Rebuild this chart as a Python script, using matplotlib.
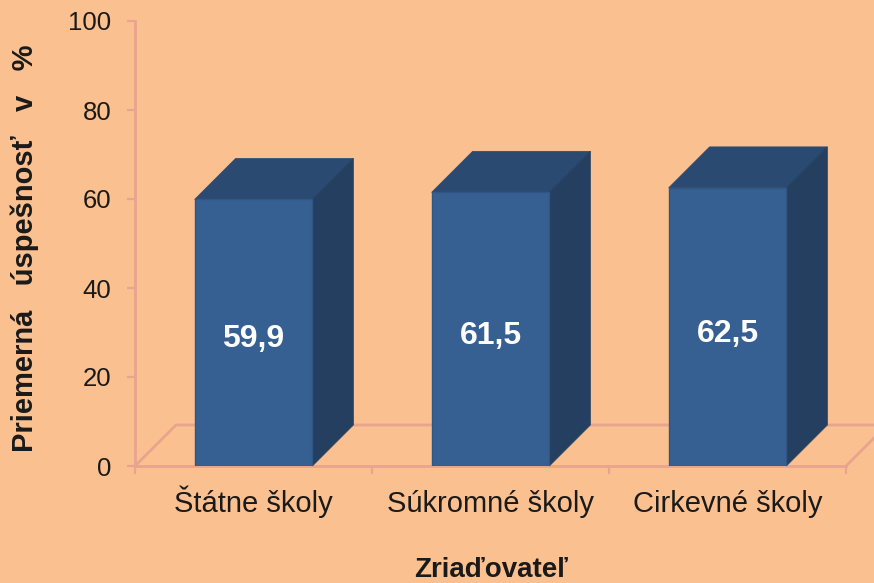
#!/usr/bin/python
#coding=utf-8

import matplotlib
matplotlib.use('Agg')
import matplotlib.pyplot as plt

categories = ['Štátne školy', 'Súkromné školy', 'Cirkevné školy']
values = [59.9, 61.5, 62.5]
value_labels = ['59,9', '61,5', '62,5']
yticks = [0, 20, 40, 60, 80, 100]

BG = '#FBC08F'
AXIS = '#E9A48F'
FRONT = '#376092'
TOP = '#2A4A72'
SIDE = '#243F60'
TEXT = '#1A1A1A'

plt.rcParams['font.family'] = ['Liberation Sans', 'DejaVu Sans']

W, H = 874, 583
fig = plt.figure(figsize=(W/100, H/100), dpi=100, facecolor=BG)
ax = fig.add_axes([135/W, (H-466)/H, (846-135)/W, (466-21)/H], facecolor='none')
ax.set_xlim(-0.5, 2.5)
ax.set_ylim(0, 100)

# depth of the fake 3d box, in data units
dx = 41/237.0
dy = 41/4.45
width = 0.497

# floor
ax.plot([-0.5, -0.5+dx, 2.5+dx], [0, dy, dy], color=AXIS, lw=2, clip_on=False, zorder=1)
ax.plot([2.5, 2.5+dx], [0, dy], color=AXIS, lw=2, clip_on=False, zorder=1)

xs = list(range(len(categories)))
for x, v in zip(xs, values):
    l = x-width/2
    r = x+width/2
    ax.fill([l, l+dx, r+dx, r], [v, v+dy, v+dy, v], color=TOP, lw=0.5, clip_on=False, zorder=3)
    ax.fill([r, r+dx, r+dx, r], [0, dy, v+dy, v], color=SIDE, lw=0.5, clip_on=False, zorder=3)
ax.bar(xs, values, width=width, color=FRONT, edgecolor='#2F5684', linewidth=1.0, zorder=4)

for x, v, s in zip(xs, values, value_labels):
    ax.text(x, v/2-0.7, s, color='white', fontsize=23, fontweight='bold',
            ha='center', va='center_baseline', zorder=5)

for side in ['top', 'right']:
    ax.spines[side].set_visible(False)
for side in ['left', 'bottom']:
    ax.spines[side].set_color(AXIS)
    ax.spines[side].set_linewidth(2)
    ax.spines[side].set_zorder(2)

ax.set_yticks(yticks)
ax.set_xticks([-0.5, 0.5, 1.5, 2.5])
ax.set_xticklabels([])
ax.set_xticks(xs, minor=True)
ax.set_xticklabels(categories, minor=True)
ax.tick_params(axis='x', which='minor', length=0, labelsize=21, labelcolor=TEXT, pad=33)
ax.tick_params(axis='x', which='major', length=6, width=1.6, color=AXIS)
ax.tick_params(axis='y', length=6, width=1.6, color=AXIS, labelsize=18.5, labelcolor=TEXT, pad=11)
for lbl in ax.get_xticklabels(minor=True):
    lbl.set_va('baseline')

fig.text(25/W, 1-248/H, 'Priemerná   úspešnosť   v   %', rotation=90, fontsize=21,
         fontweight='bold', color=TEXT, ha='center', va='center')
fig.text(491/W, 1-570/H, 'Zriaďovateľ', fontsize=20, fontweight='bold', color=TEXT,
         ha='center', va='center')

fig.savefig('out.png', dpi=100, facecolor=BG)
